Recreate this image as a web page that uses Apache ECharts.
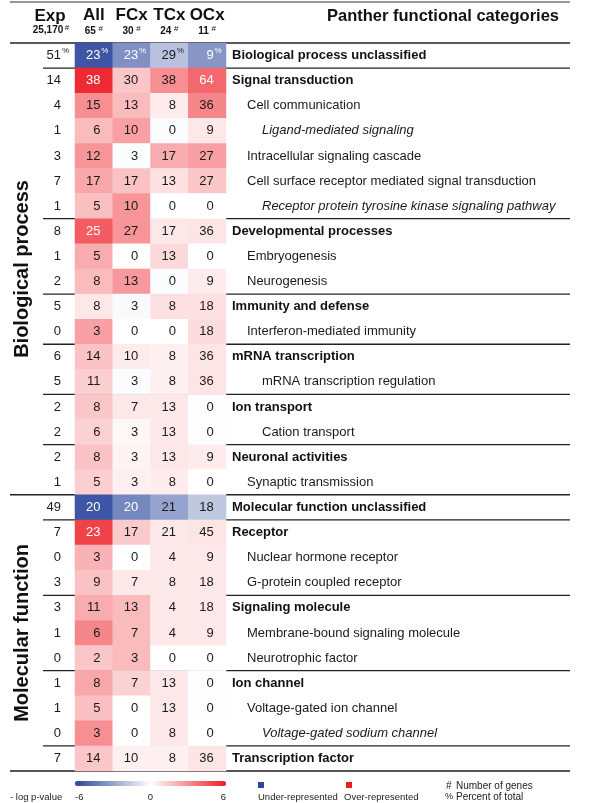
<!DOCTYPE html>
<html><head><meta charset="utf-8">
<script src="https://cdn.jsdelivr.net/npm/echarts@6/dist/echarts.min.js"></script>
<style>html,body{margin:0;padding:0;background:#fff}#c{width:600px;height:803px}</style>
</head><body><div id="c"></div>
<script>
// ---------------- data ----------------
const columns = ['All', 'FCx', 'TCx', 'OCx'];
const columnGenes = [65, 30, 24, 11];
const expGenes = '25,170';

const categories = [
  'Biological process unclassified',
  'Signal transduction',
  'Cell communication',
  'Ligand-mediated signaling',
  'Intracellular signaling cascade',
  'Cell surface receptor mediated signal transduction',
  'Receptor protein tyrosine kinase signaling pathway',
  'Developmental processes',
  'Embryogenesis',
  'Neurogenesis',
  'Immunity and defense',
  'Interferon-mediated immunity',
  'mRNA transcription',
  'mRNA transcription regulation',
  'Ion transport',
  'Cation transport',
  'Neuronal activities',
  'Synaptic transmission',
  'Molecular function unclassified',
  'Receptor',
  'Nuclear hormone receptor',
  'G-protein coupled receptor',
  'Signaling molecule',
  'Membrane-bound signaling molecule',
  'Neurotrophic factor',
  'Ion channel',
  'Voltage-gated ion channel',
  'Voltage-gated sodium channel',
  'Transcription factor'
];
// hierarchy depth of each category (0 = main category)
const depth = [0,0,1,2,1,1,2,0,1,1,0,1,0,2,0,2,0,1,0,0,1,1,0,1,1,0,1,2,0];
// sub-sub categories
const nested = [0,0,0,1,0,0,1,0,0,0,0,0,0,0,0,0,0,0,0,0,0,0,0,0,0,0,0,1,0];

const sections = ['Biological process', 'Molecular function'];
const sectionFirstRow = [0, 18];
const sectionLastRow = [17, 28];

// percent of genes
const pctExp = [51,14,4,1,3,7,1,8,1,2,5,0,6,5,2,2,2,1,49,7,0,3,3,1,0,1,1,0,7];
const pctAll = [23,38,15,6,12,17,5,25,5,8,8,3,14,11,8,6,8,5,20,23,3,9,11,6,2,8,5,3,14];
const pctFCx = [23,30,13,10,3,17,10,27,0,13,3,0,10,3,7,3,3,3,20,17,0,7,13,7,3,7,0,0,10];
const pctTCx = [29,38,8,0,17,13,0,17,13,0,8,0,8,8,13,13,13,8,21,21,4,8,4,4,0,13,13,8,8];
const pctOCx = [9,64,36,9,27,27,0,36,0,9,18,18,36,36,0,0,9,0,18,45,9,18,18,9,0,0,0,0,36];

// signed -log p-value (negative = under-represented)
const logpAll = [-5.5,5.6,3.0,1.8,2.8,2.3,1.7,4.3,2.2,1.8,0.6,2.5,1.6,1.3,1.5,1.2,1.6,1.3,-5.5,5.0,2.0,1.6,2.2,3.2,1.5,2.3,1.7,3.0,1.5];
const logpFCx = [-3.6,1.5,1.8,2.5,-0.1,1.6,2.8,2.8,0,2.7,-0.15,0,0.5,-0.1,0.6,0.2,0.3,0.4,-3.9,1.4,0,0.6,1.8,1.8,1.8,1.2,0,0,0.4];
const logpTCx = [-2.0,3.0,0.5,-0.1,2.2,0.8,0,0.6,1.0,-0.1,0.8,0,0.4,0.4,0.6,0.6,0.6,0.5,-3.0,0.6,0.6,0.6,0.6,0.6,0,0.6,0.6,0.6,0.4];
const logpOCx = [-3.4,4.0,3.2,0.6,2.5,1.5,0,0.7,0,0.5,0.8,0.9,0.7,0.7,-0.05,-0.05,0.5,0,-1.8,0.7,0.6,0.6,0.6,0.6,0,-0.05,-0.05,0,0.7];

const legendMin = -6, legendMax = 6;

// ---------------- chart ----------------
const FONT = '"Liberation Sans", Arial, Helvetica, sans-serif';
const GRID = {left: 75, right: 374, top: 43, bottom: 32};
const pctCols = [pctAll, pctFCx, pctTCx, pctOCx];
const logpCols = [logpAll, logpFCx, logpTCx, logpOCx];
const CELL_SHIFT = 6.5;   // numbers are right-aligned slightly right of the cell centre
const SUP_W = 8;          // room reserved after every number for the superscript mark

const data = [];
for (let c = 0; c < columns.length; c++) {
  for (let r = 0; r < categories.length; r++) {
    const v = logpCols[c][r];
    data.push({value: [c, r, v, pctCols[c][r]],
      label: {color: Math.abs(v) >= 3.35 ? '#ffffff' : '#1a1a1a'}});
  }
}

const chart = echarts.init(document.getElementById('c'), null, {renderer: 'canvas'});

// superscript mark hangs to the right of the right-aligned number;
// other rows get an equally wide blank token so all numbers line up
const supRich = {
  s: {fontSize: 8, width: SUP_W - 2, padding: [0, 0, 9, 2], fontFamily: FONT},
  p: {fontSize: 8, width: SUP_W - 2, padding: [0, 0, 0, 2], fontFamily: FONT}
};
const withSup = (num, row, mark) => row === 0 ? `${num}{s|${mark}}` : `${num}{p| }`;

chart.setOption({
  animation: false,
  backgroundColor: '#ffffff',
  textStyle: {fontFamily: FONT},
  grid: GRID,
  xAxis: {
    type: 'category', data: columns, position: 'top',
    axisLine: {show: false}, axisTick: {show: false}, splitLine: {show: false},
    axisLabel: {
      margin: 5, interval: 0,
      formatter: (v, i) => `{h|${v}}\n{n|${columnGenes[i]} }{s|#}`,
      rich: {
        h: {fontSize: 17, fontWeight: 'bold', color: '#111', lineHeight: 20, fontFamily: FONT},
        n: {fontSize: 10, fontWeight: 'bold', color: '#111', lineHeight: 12, fontFamily: FONT},
        s: {fontSize: 8, color: '#111', padding: [0, 0, 5, 0], fontFamily: FONT}
      }
    }
  },
  yAxis: [{
    type: 'category', data: categories, inverse: true, position: 'left',
    axisLine: {show: false}, axisTick: {show: false}, splitLine: {show: false},
    axisLabel: {
      margin: 14 - SUP_W, align: 'right', interval: 0, color: '#1a1a1a', fontSize: 13,
      formatter: (v, i) => withSup(pctExp[i], i, '%'),
      rich: supRich
    }
  }, {
    type: 'category', data: categories, inverse: true, position: 'right',
    axisLine: {show: false}, axisTick: {show: false}, splitLine: {show: false},
    axisLabel: {
      margin: 6, align: 'left', interval: 0, color: '#1a1a1a', fontSize: 13,
      formatter: (v, i) => {
        if (depth[i] === 0) return `{b|${v}}`;
        if (nested[i]) return `{i|${v}}`;
        return depth[i] === 1 ? `{n1|${v}}` : `{n2|${v}}`;
      },
      rich: {
        b: {fontWeight: 'bold', fontSize: 13, color: '#111', fontFamily: FONT},
        n1: {fontSize: 13, color: '#1a1a1a', padding: [0, 0, 0, 15], fontFamily: FONT},
        n2: {fontSize: 13, color: '#1a1a1a', padding: [0, 0, 0, 30], fontFamily: FONT},
        i: {fontSize: 13, fontStyle: 'italic', color: '#1a1a1a', padding: [0, 0, 0, 30], fontFamily: FONT}
      }
    }
  }],
  visualMap: {
    type: 'continuous', min: legendMin, max: legendMax, dimension: 2, seriesIndex: 0,
    orient: 'horizontal', left: GRID.left, top: 781, itemWidth: 5, itemHeight: 151,
    padding: 0, calculable: false, hoverLink: false, text: null, showLabel: false,
    inRange: {color: ['#2b469c', '#ffffff', '#ed1c24']}
  },
  series: [{
    type: 'heatmap', data: data, xAxisIndex: 0, yAxisIndex: 0,
    itemStyle: {borderWidth: 0},
    emphasis: {disabled: true},
    label: {
      show: true, fontSize: 13, fontFamily: FONT, align: 'right', offset: [CELL_SHIFT + SUP_W, 0],
      formatter: p => withSup(p.value[3], p.value[1], '%'),
      rich: supRich
    }
  }]
});

// ---------------- decorations (separators, headers, legend) ----------------
const yc = r => chart.convertToPixel({yAxisIndex: 0}, r);
const band = yc(1) - yc(0);
const rowTop = r => yc(r) - band / 2;
const xRight = 570, xLong = 10, xShort = 43;
const gridBottom = rowTop(categories.length - 1) + band;

const g = [];
const hline = (y, x1, color, w) => g.push({type: 'line', silent: true,
  shape: {x1: x1, y1: y, x2: xRight, y2: y}, style: {stroke: color, lineWidth: w}});

hline(2, xLong, '#333', 1.2);
hline(rowTop(0), xLong, '#222', 1.5);
for (let r = 1; r < categories.length; r++) {
  if (depth[r] !== 0) continue;
  const isSection = sectionFirstRow.includes(r);
  hline(rowTop(r), isSection ? xLong : xShort, '#222', isSection ? 1.5 : 1.3);
}
hline(gridBottom, xLong, '#555', 2);

// section titles
sections.forEach((s, k) => {
  const y1 = rowTop(sectionFirstRow[k]);
  const y2 = rowTop(sectionLastRow[k]) + band;
  g.push({type: 'text', x: 22, y: (y1 + y2) / 2, rotation: Math.PI / 2, silent: true,
    style: {text: s, fill: '#111', font: `bold 20px ${FONT}`, align: 'center', verticalAlign: 'middle'}});
});

// header texts
g.push({type: 'text', x: 50, y: 16, silent: true,
  style: {text: 'Exp', fill: '#111', font: `bold 17px ${FONT}`, align: 'center', verticalAlign: 'middle'}});
g.push({type: 'text', x: 48, y: 30, silent: true,
  style: {text: expGenes, fill: '#111', font: `bold 10px ${FONT}`, align: 'center', verticalAlign: 'middle'}});
g.push({type: 'text', x: 67, y: 28, silent: true,
  style: {text: '#', fill: '#111', font: `8px ${FONT}`, align: 'center', verticalAlign: 'middle'}});
g.push({type: 'text', x: 443, y: 16, silent: true,
  style: {text: 'Panther functional categories', fill: '#111', font: `bold 16.5px ${FONT}`, align: 'center', verticalAlign: 'middle'}});

// colour legend labels
const lx0 = GRID.left, lx1 = 600 - GRID.right;
const legY = 797;
const small = `9.5px ${FONT}`;
g.push({type: 'text', x: 10, y: legY, silent: true, style: {text: '- log p-value', fill: '#222', font: small, align: 'left', verticalAlign: 'middle'}});
g.push({type: 'text', x: lx0, y: legY, silent: true, style: {text: String(legendMin), fill: '#222', font: small, align: 'left', verticalAlign: 'middle'}});
g.push({type: 'text', x: (lx0 + lx1) / 2, y: legY, silent: true, style: {text: '0', fill: '#222', font: small, align: 'center', verticalAlign: 'middle'}});
g.push({type: 'text', x: lx1, y: legY, silent: true, style: {text: String(legendMax), fill: '#222', font: small, align: 'right', verticalAlign: 'middle'}});

g.push({type: 'rect', silent: true, shape: {x: 258, y: 782, width: 6, height: 6}, style: {fill: '#2b469c'}});
g.push({type: 'text', x: 258, y: legY, silent: true, style: {text: 'Under-represented', fill: '#222', font: small, align: 'left', verticalAlign: 'middle'}});
g.push({type: 'rect', silent: true, shape: {x: 346, y: 782, width: 6, height: 6}, style: {fill: '#ed1c24'}});
g.push({type: 'text', x: 344, y: legY, silent: true, style: {text: 'Over-represented', fill: '#222', font: small, align: 'left', verticalAlign: 'middle'}});

const right = `10px ${FONT}`;
g.push({type: 'text', x: 446, y: 786, silent: true, style: {text: '#', fill: '#222', font: right, align: 'left', verticalAlign: 'middle'}});
g.push({type: 'text', x: 456, y: 786, silent: true, style: {text: 'Number of genes', fill: '#222', font: right, align: 'left', verticalAlign: 'middle'}});
g.push({type: 'text', x: 445, y: 797, silent: true, style: {text: '%', fill: '#222', font: `9px ${FONT}`, align: 'left', verticalAlign: 'middle'}});
g.push({type: 'text', x: 456, y: 797, silent: true, style: {text: 'Percent of total', fill: '#222', font: right, align: 'left', verticalAlign: 'middle'}});

chart.setOption({graphic: {elements: g}});
</script>
</body></html>
